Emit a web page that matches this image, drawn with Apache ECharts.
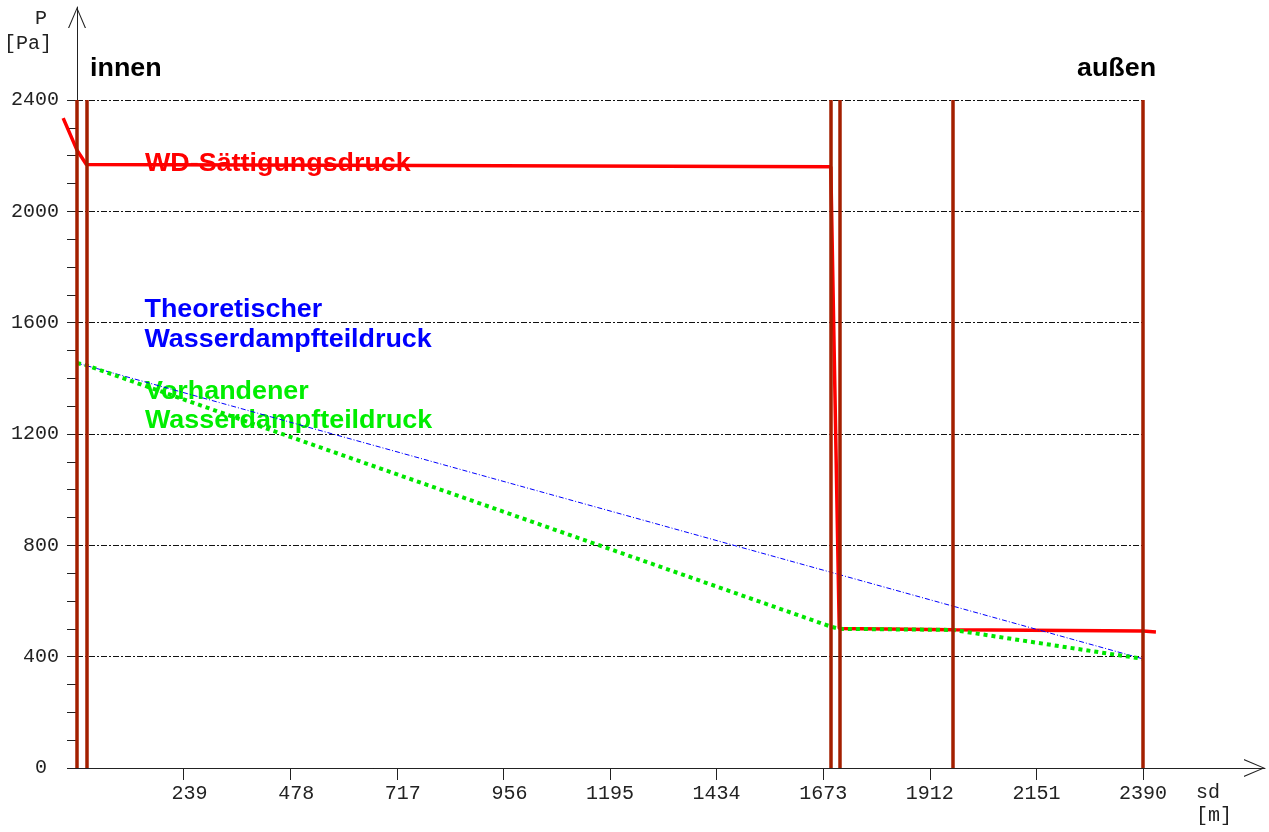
<!DOCTYPE html>
<html>
<head>
<meta charset="utf-8">
<style>
  html, body { margin: 0; padding: 0; background: #fff; }
  #chart { width: 1269px; height: 832px; }
</style>
<script src="https://cdn.jsdelivr.net/npm/echarts@6/dist/echarts.min.js"></script>
</head>
<body>
<div id="chart"></div>
<script>
// ---- data ----
const xTicks = [239, 478, 717, 956, 1195, 1434, 1673, 1912, 2151, 2390];
const yTicks = [0, 400, 800, 1200, 1600, 2000, 2400];
const layerBoundaries = [0, 21, 1690, 1709, 1964, 2390];
const saturationX = [-31, 0, 21, 1690, 1709, 1964, 2390, 2419];
const saturationP = [2335, 2220, 2168, 2160, 501, 497, 492, 489];
const theoreticalX = [0, 2390];
const theoreticalP = [1455, 392];
const actualX = [0, 21, 1690, 1709, 1964, 2390];
const actualP = [1455, 1447, 508, 500, 496, 392];

const zip = (xs, ys) => xs.map((x, i) => [x, ys[i]]);

// ---- layout ----
const W = 1269, H = 832;
const plotLeft = 77, plotRight = 1143, plotTop = 100, plotBottom = 768;
const xMax = 2390;
const pxPerUnit = (plotRight - plotLeft) / xMax;
// wider hidden frame (same scale) so the saturation curve may run past the layer edges
const extMin = -32, extMax = 2422;

const mono = '"Liberation Mono", "Courier New", monospace';
const sansBold = 'bold 25px "Liberation Sans", Arial, sans-serif';
const arrowPath = 'path://M9,0 L18,21 L16.8,21 L9,2.4 L1.2,21 L0,21 Z';

const chart = echarts.init(document.getElementById('chart'), null, { renderer: 'canvas' });

const hiddenAxis = { axisLine: { show: false }, axisTick: { show: false }, axisLabel: { show: false }, splitLine: { show: false } };

const option = {
  animation: false,
  backgroundColor: '#ffffff',
  grid: [
    { left: plotLeft, right: W - plotRight, top: plotTop, bottom: H - plotBottom, containLabel: false },
    { left: plotLeft, right: 4, top: 7, bottom: H - plotBottom, containLabel: false },
    { left: plotLeft + extMin * pxPerUnit, right: W - (plotLeft + extMax * pxPerUnit), top: plotTop, bottom: H - plotBottom, containLabel: false }
  ],
  xAxis: [
    {
      type: 'value', gridIndex: 0, min: 0, max: xMax, interval: 239,
      axisLine: { show: false },
      axisTick: { show: true, length: 12, customValues: xTicks, lineStyle: { color: '#222', width: 1 } },
      axisLabel: {
        show: true, customValues: xTicks, margin: 16, hideOverlap: false,
        fontFamily: mono, fontSize: 20, color: '#222',
        formatter: v => String(v).padStart(4, ' ')
      },
      splitLine: { show: false }
    },
    {
      type: 'value', gridIndex: 1, min: 0, max: 1,
      axisLine: { show: true, onZero: false, symbol: ['none', arrowPath], symbolSize: [21, 21], symbolOffset: [0, -10.5], lineStyle: { color: '#222', width: 1 } },
      axisTick: { show: false }, axisLabel: { show: false }, splitLine: { show: false }
    },
    Object.assign({ type: 'value', gridIndex: 2, min: extMin, max: extMax }, hiddenAxis)
  ],
  yAxis: [
    {
      type: 'value', gridIndex: 0, min: 0, max: 2400, interval: 400,
      axisLine: { show: false },
      axisTick: { show: true, length: 10, lineStyle: { color: '#222', width: 1 } },
      minorTick: { show: true, splitNumber: 4, length: 10, lineStyle: { color: '#222', width: 1 } },
      axisLabel: {
        show: true, customValues: yTicks, margin: 18,
        fontFamily: mono, fontSize: 20, color: '#222',
        formatter: v => (v === 0 ? '0 ' : String(v))
      },
      splitLine: { show: true, lineStyle: { color: '#111', width: 1, type: [6, 2, 2, 2] } }
    },
    {
      type: 'value', gridIndex: 1, min: 0, max: 1,
      axisLine: { show: true, onZero: false, symbol: ['none', arrowPath], symbolSize: [18, 21], symbolOffset: [0, -10.5], lineStyle: { color: '#222', width: 1 } },
      axisTick: { show: false }, axisLabel: { show: false }, splitLine: { show: false }
    },
    Object.assign({ type: 'value', gridIndex: 2, min: 0, max: 2400 }, hiddenAxis)
  ],
  series: [
    {
      name: 'Schichtgrenzen', type: 'line', xAxisIndex: 0, yAxisIndex: 0, data: [],
      markLine: {
        silent: true, symbol: ['none', 'none'],
        label: { show: false },
        lineStyle: { color: '#a31f00', width: 3.5, type: 'solid' },
        emphasis: { disabled: true },
        data: layerBoundaries.map(v => ({ xAxis: v }))
      }
    },
    {
      name: 'WD-Sättigungsdruck', type: 'line', xAxisIndex: 2, yAxisIndex: 2,
      data: zip(saturationX, saturationP), showSymbol: false, clip: false, silent: true,
      lineStyle: { color: '#ff0000', width: 3.5 }
    },
    {
      name: 'Theoretischer Wasserdampfteildruck', type: 'line', xAxisIndex: 0, yAxisIndex: 0,
      data: zip(theoreticalX, theoreticalP), showSymbol: false, clip: false, silent: true,
      lineStyle: { color: '#0000ff', width: 1, type: [5, 2, 1, 2] }
    },
    {
      name: 'Vorhandener Wasserdampfteildruck', type: 'line', xAxisIndex: 0, yAxisIndex: 0,
      data: zip(actualX, actualP), showSymbol: false, clip: false, silent: true,
      lineStyle: { color: '#00e600', width: 4, type: [4, 4], cap: 'butt' }
    }
  ],
  graphic: [
    { type: 'text', x: 35, y: 9, silent: true, style: { text: 'P', font: '20px ' + mono, fill: '#222', verticalAlign: 'top', lineHeight: 20 } },
    { type: 'text', x: 4, y: 34, silent: true, style: { text: '[Pa]', font: '20px ' + mono, fill: '#222', verticalAlign: 'top', lineHeight: 20 } },
    { type: 'text', x: 1196, y: 783, silent: true, style: { text: 'sd', font: '20px ' + mono, fill: '#222', verticalAlign: 'top', lineHeight: 20 } },
    { type: 'text', x: 1196, y: 806, silent: true, style: { text: '[m]', font: '20px ' + mono, fill: '#222', verticalAlign: 'top', lineHeight: 20 } },
    { type: 'text', x: 90, y: 54.5, scaleX: 1.075, silent: true, style: { text: 'innen', font: sansBold, fill: '#000', verticalAlign: 'top', lineHeight: 30 } },
    { type: 'text', x: 1077, y: 54.5, scaleX: 1.075, silent: true, style: { text: 'außen', font: sansBold, fill: '#000', verticalAlign: 'top', lineHeight: 30 } },
    { type: 'text', x: 145, y: 149, scaleX: 1.075, silent: true, z: 100, style: { text: 'WD-Sättigungsdruck', font: sansBold, fill: '#ff0000', verticalAlign: 'top', lineHeight: 30 } },
    { type: 'text', x: 144.5, y: 295.5, scaleX: 1.075, silent: true, style: { text: 'Theoretischer\nWasserdampfteildruck', font: sansBold, fill: '#0000ff', verticalAlign: 'top', lineHeight: 30 } },
    { type: 'text', x: 145, y: 377, scaleX: 1.075, silent: true, style: { text: 'Vorhandener\nWasserdampfteildruck', font: sansBold, fill: '#00ee00', verticalAlign: 'top', lineHeight: 29.5 } }
  ]
};

chart.setOption(option);
</script>
</body>
</html>
